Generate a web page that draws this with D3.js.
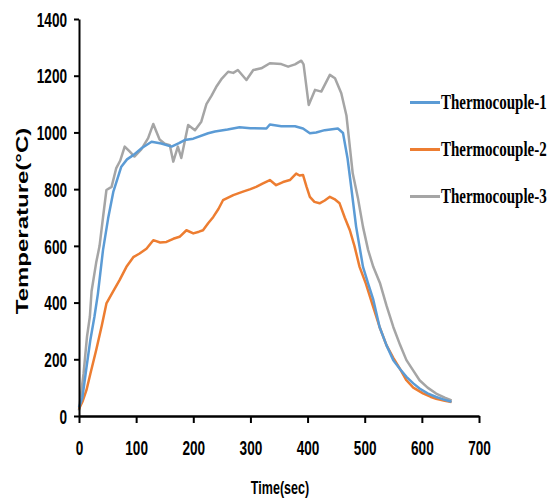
<!DOCTYPE html>
<html>
<head>
<meta charset="utf-8">
<script src="https://cdn.jsdelivr.net/npm/d3@7"></script>
<style>
  body { margin: 0; background: #fff; }
  svg { display: block; }
</style>
</head>
<body>
<div class="chart__container"></div>
<script>
// values
const seriesNames = ["Thermocouple-1", "Thermocouple-2", "Thermocouple-3"];
const xTicks = [0, 100, 200, 300, 400, 500, 600, 700];
const yTicks = [0, 200, 400, 600, 800, 1000, 1200, 1400];

const timeTc1 = [0, 6, 13, 20, 27, 33, 42, 51, 60, 74, 84, 95, 110, 127, 144, 162, 175, 185, 200, 226, 238, 260, 281, 300, 328, 334, 354, 378, 392, 404, 415, 430, 453, 462, 470, 477, 485, 497, 506, 515, 526, 538, 550, 562, 573, 585, 596, 610, 625, 640, 652];
const tempTc1 = [30, 66, 170, 270, 350, 430, 585, 697, 790, 879, 905, 920, 945, 967, 961, 950, 962, 973, 978, 997, 1003, 1010, 1018, 1015, 1014, 1028, 1022, 1022, 1014, 997, 1000, 1008, 1014, 998, 908, 797, 667, 526, 467, 410, 314, 250, 197, 165, 138, 115, 97, 80, 67, 57, 50];

const timeTc2 = [0, 6, 13, 20, 30, 40, 48, 60, 71, 83, 95, 106, 118, 130, 142, 153, 165, 176, 188, 200, 210, 217, 226, 235, 244, 252, 261, 270, 287, 300, 310, 322, 334, 345, 357, 369, 380, 386, 392, 398, 404, 412, 421, 430, 439, 447, 456, 465, 474, 482, 491, 502, 514, 526, 538, 550, 562, 573, 585, 602, 615, 625, 640, 652];
const tempTc2 = [25, 50, 91, 150, 232, 320, 397, 440, 479, 526, 560, 573, 590, 620, 612, 614, 625, 632, 655, 644, 650, 655, 680, 702, 730, 761, 770, 779, 791, 800, 808, 820, 832, 814, 825, 832, 855, 848, 850, 810, 773, 755, 750, 760, 773, 765, 750, 700, 655, 600, 526, 467, 390, 314, 250, 205, 165, 126, 100, 80, 68, 61, 54, 49];

const timeTc3 = [0, 8, 14, 19, 22, 30, 36, 42, 48, 57, 65, 72, 80, 89, 97, 109, 121, 130, 141, 150, 159, 165, 173, 179, 191, 203, 214, 223, 232, 240, 250, 261, 270, 278, 293, 305, 319, 334, 354, 366, 378, 389, 393, 402, 413, 424, 439, 448, 459, 468, 479, 488, 497, 506, 515, 527, 538, 550, 562, 573, 585, 596, 610, 625, 640, 652];
const tempTc3 = [20, 150, 280, 350, 440, 540, 600, 700, 797, 808, 873, 900, 950, 932, 915, 940, 980, 1030, 975, 960, 955, 897, 950, 910, 1026, 1008, 1038, 1100, 1130, 1160, 1190, 1214, 1210, 1220, 1185, 1220, 1226, 1244, 1241, 1232, 1240, 1253, 1240, 1097, 1150, 1144, 1203, 1191, 1138, 1060, 856, 770, 667, 585, 526, 467, 390, 314, 250, 197, 160, 126, 100, 79, 65, 55];

const colors = ["#5b9bd5", "#ed7d31", "#a5a5a5"];

function drawChart() {
  const margin = { top: 19, left: 79 };
  const width = 400;
  const height = 397;

  const svg = d3
    .select(".chart__container")
    .append("svg")
    .attr("width", 556)
    .attr("height", 502);

  const g = svg
    .append("g")
    .attr("transform", `translate(${margin.left},${margin.top})`);

  const xScale = d3.scaleLinear().domain([0, 700]).range([0, width]);
  const yScale = d3.scaleLinear().domain([0, 1400]).range([height, 0]);

  const series = [
    { name: seriesNames[0], t: timeTc1, v: tempTc1, color: colors[0] },
    { name: seriesNames[1], t: timeTc2, v: tempTc2, color: colors[1] },
    { name: seriesNames[2], t: timeTc3, v: tempTc3, color: colors[2] },
  ];

  const line = d3
    .line()
    .x((d) => xScale(d[0]))
    .y((d) => yScale(d[1]));

  // grey first so blue and orange sit on top
  [2, 1, 0].forEach((i) => {
    const s = series[i];
    g.append("path")
      .datum(d3.zip(s.t, s.v))
      .attr("fill", "none")
      .attr("stroke", s.color)
      .attr("stroke-width", 2.5)
      .attr("stroke-linejoin", "round")
      .attr("d", line);
  });

  const tickFont = (a) =>
    a.attr("font-family", "'Liberation Sans', Arial, sans-serif")
      .attr("font-weight", "bold")
      .attr("font-size", 20);

  // y axis
  g.append("g")
    .call(d3.axisLeft(yScale).tickValues(yTicks).tickFormat(d3.format("d")).tickSize(5).tickSizeOuter(0))
    .call(tickFont)
    .call((a) => a.select(".domain").attr("stroke", "#000").attr("stroke-width", 2))
    .call((a) => a.selectAll(".tick line").attr("stroke", "#000").attr("stroke-width", 2))
    .call((a) =>
      a.selectAll(".tick text")
        .attr("fill", "#000")
        .attr("x", -17.6)
        .attr("dy", "0.36em")
        .attr("transform", "scale(0.68,1)")
    );

  // x axis
  g.append("g")
    .attr("transform", `translate(0,${height})`)
    .call(d3.axisBottom(xScale).tickValues(xTicks).tickFormat(d3.format("d")).tickSize(7).tickSizeOuter(0))
    .call(tickFont)
    .call((a) => a.select(".domain").attr("stroke", "#000").attr("stroke-width", 2.5))
    .call((a) => a.selectAll(".tick line").attr("stroke", "#000").attr("stroke-width", 2))
    .call((a) =>
      a.selectAll(".tick text")
        .attr("fill", "#000")
        .attr("y", 39)
        .attr("dy", 0)
        .attr("transform", "scale(0.68,1)")
    );

  // axis titles
  svg.append("text")
    .attr("transform", "translate(280,494) scale(0.66,1)")
    .attr("text-anchor", "middle")
    .attr("font-family", "'Liberation Sans', Arial, sans-serif")
    .attr("font-weight", "bold")
    .attr("font-size", 19)
    .text("Time(sec)");

  svg.append("text")
    .attr("transform", "translate(28,221) rotate(-90) scale(1,0.66)")
    .attr("text-anchor", "middle")
    .attr("font-family", "'Liberation Sans', Arial, sans-serif")
    .attr("font-weight", "bold")
    .attr("font-size", 24)
    .text("Temperature(°C)");

  // legend
  const legend = svg
    .append("g")
    .selectAll("g")
    .data(series)
    .enter()
    .append("g")
    .attr("transform", (d, i) => `translate(410,${102.5 + i * 47})`);

  legend.append("line")
    .attr("x1", 0)
    .attr("x2", 30)
    .attr("stroke", (d) => d.color)
    .attr("stroke-width", 3);

  legend.append("text")
    .attr("transform", "translate(31,6.5) scale(0.75,1)")
    .attr("font-family", "'Liberation Serif', 'Times New Roman', serif")
    .attr("font-weight", "bold")
    .attr("font-size", 20)
    .text((d) => d.name);
}

drawChart();
</script>
</body>
</html>
